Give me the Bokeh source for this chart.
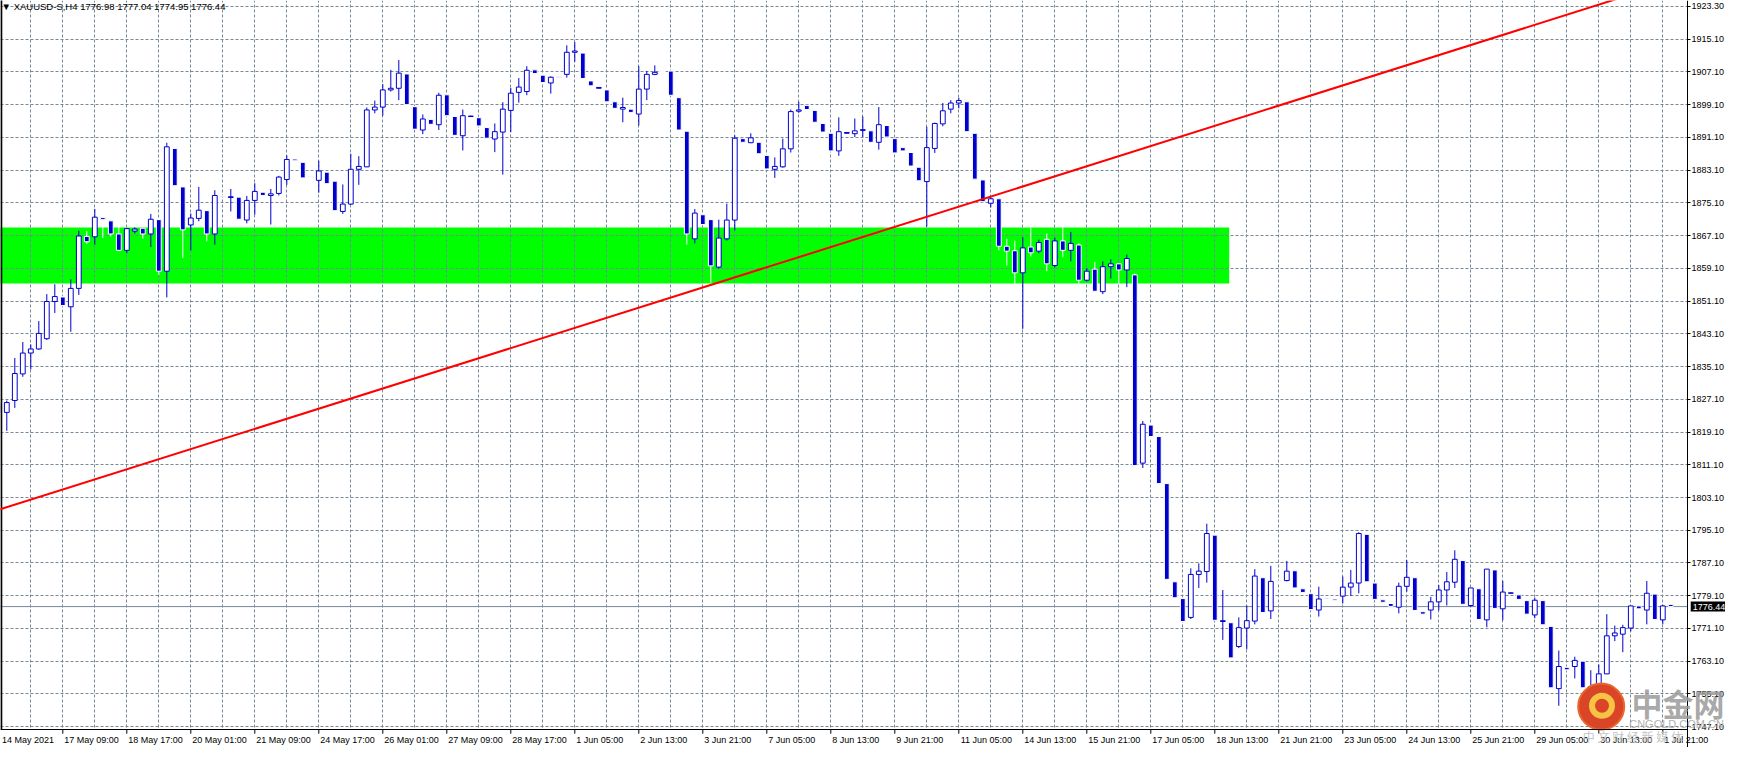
from bokeh.plotting import figure
from bokeh.models import Range1d, FixedTicker, PrintfTickFormatter, Label, ColumnDataSource
from bokeh.embed import file_html
from bokeh.resources import INLINE

# ---------------- data (H4 bars, index 0 = 14 May 2021 01:00) ----------------
opens = [1826.1, 1823.9, 1826.8, 1833.3, 1838.4, 1839.4, 1841.9, 1851.0, 1852.1, 1849.7,
         1854.2, 1866.9, 1866.8, 1871.5, 1870.7, 1867.5, 1863.5, 1868.2, 1868.9, 1867.5,
         1871.0, 1858.4, 1888.4, 1879.0, 1869.7, 1871.3, 1873.2, 1867.5, 1876.8, 1876.4,
         1876.5, 1870.9, 1875.7, 1877.7, 1876.9, 1877.4, 1880.8, 1885.8, 1885.0, 1881.5,
         1880.6, 1882.6, 1880.4, 1873.0, 1874.8, 1883.3, 1883.9, 1897.8, 1898.5, 1902.7,
         1903.1, 1906.6, 1898.6, 1892.9, 1895.5, 1894.2, 1901.5, 1896.2, 1891.5, 1896.2,
         1895.9, 1893.5, 1890.7, 1892.4, 1897.7, 1902.1, 1902.3, 1907.6, 1906.3, 1904.4,
         1905.9, 1906.5, 1911.9, 1911.7, 1904.9, 1903.1, 1902.7, 1899.8, 1898.0, 1898.0,
         1896.8, 1902.9, 1906.5, 1907.2, 1907.3, 1900.8, 1892.6, 1866.3, 1872.2, 1871.0,
         1859.4, 1866.3, 1870.9, 1890.8, 1889.8, 1889.9, 1886.7, 1883.3, 1883.9, 1888.3,
         1897.5, 1898.9, 1897.7, 1894.5, 1892.1, 1887.8, 1892.1, 1892.0, 1892.8, 1892.7,
         1889.9, 1894.0, 1890.8, 1888.6, 1887.4, 1883.8, 1880.3, 1888.4, 1894.4, 1898.0,
         1899.5, 1899.8, 1892.1, 1880.7, 1875.0, 1876.1, 1864.5, 1863.4, 1858.0, 1864.3,
         1863.3, 1866.2, 1859.8, 1865.8, 1863.5, 1864.8, 1856.2, 1858.9, 1853.4, 1859.5,
         1860.2, 1858.7, 1857.5, 1811.5, 1820.8, 1818.0, 1806.5, 1782.5, 1778.4, 1773.8,
         1784.3, 1785.0, 1793.9, 1772.8, 1772.5, 1766.7, 1771.2, 1772.9, 1783.5, 1775.4,
         1782.6, 1782.8, 1785.2, 1780.8, 1779.6, 1775.6, 1778.5, 1778.3, 1779.0, 1781.2,
         1782.2, 1794.1, 1782.2, 1778.1, 1777.2, 1776.3, 1781.4, 1783.5, 1775.2, 1775.6,
         1777.6, 1780.5, 1782.4, 1787.7, 1776.7, 1780.8, 1773.2, 1785.4, 1775.9, 1779.7,
         1779.3, 1777.9, 1774.4, 1777.9, 1771.6, 1756.4, 1761.6, 1761.8, 1763.1, 1753.5,
         1755.2, 1760.0, 1769.3, 1769.7, 1771.2, 1776.6, 1775.6, 1779.5, 1773.2, 1776.98]

highs = [1827.0, 1826.8, 1837.2, 1841.1, 1840.5, 1846.2, 1852.8, 1855.2, 1852.4, 1856.4,
         1868.3, 1868.2, 1873.6, 1871.7, 1870.9, 1869.5, 1868.9, 1869.1, 1869.0, 1872.4,
         1871.2, 1889.8, 1888.6, 1879.2, 1872.5, 1879.0, 1873.4, 1878.2, 1877.0, 1878.5,
         1876.7, 1876.8, 1879.9, 1877.9, 1878.5, 1881.7, 1886.7, 1886.0, 1885.2, 1881.7,
         1885.4, 1882.8, 1880.6, 1879.6, 1887.1, 1886.5, 1898.4, 1900.1, 1904.1, 1907.6,
         1910.0, 1906.8, 1898.8, 1896.7, 1895.7, 1902.0, 1901.7, 1896.4, 1897.9, 1896.4,
         1896.1, 1893.7, 1894.5, 1899.7, 1903.2, 1905.6, 1908.5, 1907.8, 1906.5, 1906.0,
         1906.0, 1913.6, 1914.4, 1911.9, 1905.1, 1903.4, 1902.9, 1900.0, 1900.8, 1898.2,
         1908.5, 1907.3, 1908.7, 1907.4, 1907.5, 1901.0, 1892.8, 1873.6, 1872.4, 1871.2,
         1871.0, 1874.9, 1891.6, 1891.0, 1892.1, 1890.1, 1886.9, 1886.2, 1890.8, 1897.9,
         1899.8, 1899.1, 1897.9, 1894.7, 1892.3, 1896.0, 1892.4, 1895.7, 1896.2, 1892.9,
         1898.5, 1894.2, 1891.0, 1888.8, 1887.6, 1884.0, 1893.7, 1894.7, 1899.5, 1900.2,
         1900.8, 1900.0, 1892.3, 1880.9, 1876.8, 1876.3, 1866.3, 1865.9, 1866.7, 1869.0,
         1866.1, 1867.6, 1866.6, 1869.1, 1868.0, 1865.2, 1859.1, 1860.7, 1860.8, 1861.3,
         1860.4, 1862.5, 1857.8, 1821.8, 1821.0, 1818.4, 1806.7, 1782.7, 1778.6, 1785.8,
         1787.0, 1796.7, 1794.1, 1780.5, 1772.7, 1773.8, 1776.7, 1785.6, 1783.7, 1786.4,
         1782.8, 1787.6, 1785.4, 1781.0, 1779.8, 1781.3, 1778.7, 1778.5, 1783.8, 1785.4,
         1794.6, 1794.3, 1782.4, 1778.3, 1777.4, 1782.3, 1787.8, 1783.7, 1775.4, 1778.8,
         1781.7, 1784.9, 1790.2, 1787.9, 1781.0, 1781.0, 1785.6, 1785.6, 1782.7, 1779.9,
         1779.5, 1778.1, 1778.6, 1778.1, 1771.8, 1765.7, 1761.8, 1764.2, 1763.3, 1760.9,
         1762.3, 1774.6, 1771.8, 1772.0, 1776.6, 1776.8, 1782.7, 1779.7, 1776.9, 1777.04]

lows = [1819.5, 1819.4, 1825.0, 1832.6, 1834.4, 1839.2, 1841.6, 1848.2, 1849.8, 1843.6,
        1852.6, 1865.1, 1864.9, 1866.5, 1866.9, 1863.3, 1862.8, 1867.6, 1866.3, 1864.3,
        1857.5, 1852.0, 1879.0, 1861.6, 1863.5, 1870.6, 1865.7, 1864.9, 1876.5, 1873.0,
        1870.9, 1870.1, 1872.2, 1876.7, 1869.8, 1876.9, 1879.5, 1885.2, 1881.0, 1881.0,
        1877.6, 1879.6, 1873.0, 1872.4, 1874.6, 1879.5, 1883.9, 1897.0, 1896.4, 1902.3,
        1900.2, 1898.9, 1892.9, 1891.9, 1894.1, 1892.9, 1896.2, 1891.4, 1887.9, 1896.1,
        1893.7, 1890.7, 1887.5, 1882.0, 1892.4, 1899.6, 1901.4, 1906.5, 1904.3, 1901.8,
        1905.6, 1905.7, 1909.6, 1905.3, 1903.5, 1903.0, 1899.6, 1898.0, 1894.8, 1897.0,
        1894.0, 1900.2, 1906.3, 1906.9, 1901.2, 1892.7, 1864.9, 1865.2, 1869.6, 1855.6,
        1859.0, 1865.9, 1868.4, 1889.7, 1889.7, 1886.9, 1883.2, 1881.2, 1883.7, 1887.4,
        1897.1, 1897.7, 1894.6, 1892.2, 1887.6, 1886.6, 1892.0, 1891.2, 1891.2, 1889.7,
        1888.1, 1891.0, 1887.1, 1887.6, 1883.9, 1880.3, 1869.3, 1887.3, 1893.8, 1897.0,
        1898.2, 1892.3, 1880.7, 1875.2, 1874.0, 1863.5, 1859.8, 1855.3, 1844.3, 1862.0,
        1862.8, 1858.4, 1859.3, 1861.8, 1860.8, 1855.3, 1855.9, 1853.3, 1852.8, 1856.6,
        1855.2, 1854.5, 1810.7, 1810.3, 1817.0, 1806.3, 1782.9, 1778.4, 1772.6, 1773.4,
        1781.0, 1782.3, 1772.9, 1768.3, 1763.7, 1766.3, 1766.0, 1772.1, 1774.8, 1773.4,
        1782.3, 1782.6, 1780.8, 1779.7, 1775.5, 1774.0, 1778.2, 1777.9, 1777.2, 1779.0,
        1779.7, 1782.3, 1778.0, 1777.3, 1776.3, 1774.8, 1780.1, 1775.3, 1774.4, 1773.3,
        1775.5, 1776.7, 1781.0, 1776.8, 1776.4, 1773.1, 1771.4, 1775.8, 1773.1, 1779.6,
        1778.0, 1774.4, 1773.6, 1771.8, 1756.4, 1752.2, 1760.8, 1758.9, 1756.4, 1750.8,
        1753.5, 1760.0, 1768.0, 1765.3, 1770.4, 1775.7, 1772.1, 1773.1, 1772.1, 1774.95]

closes = [1823.9, 1826.3, 1833.4, 1838.4, 1839.4, 1843.2, 1851.0, 1852.2, 1850.0, 1854.2,
          1867.0, 1865.6, 1871.6, 1871.0, 1867.5, 1863.5, 1868.8, 1868.7, 1867.5, 1871.1,
          1858.4, 1888.8, 1879.3, 1868.5, 1871.4, 1873.3, 1867.5, 1876.9, 1876.6, 1876.6,
          1871.1, 1875.7, 1877.9, 1876.9, 1877.3, 1881.4, 1885.7, 1885.4, 1881.2, 1881.3,
          1882.9, 1879.8, 1873.2, 1874.8, 1883.3, 1884.0, 1897.8, 1898.5, 1902.7, 1903.1,
          1906.8, 1899.1, 1893.1, 1895.6, 1894.3, 1901.4, 1896.4, 1891.6, 1896.4, 1896.3,
          1893.9, 1890.9, 1892.5, 1898.0, 1901.9, 1903.4, 1907.5, 1906.7, 1904.5, 1905.8,
          1905.7, 1911.9, 1912.2, 1905.5, 1903.7, 1903.3, 1899.8, 1898.2, 1898.4, 1897.2,
          1902.9, 1906.5, 1907.0, 1907.1, 1901.4, 1892.9, 1867.5, 1872.6, 1869.8, 1859.7,
          1866.5, 1870.9, 1890.9, 1889.9, 1891.0, 1887.1, 1883.4, 1884.0, 1888.3, 1897.4,
          1897.8, 1897.9, 1894.8, 1892.4, 1887.8, 1892.5, 1892.3, 1892.7, 1893.0, 1889.9,
          1894.2, 1891.2, 1887.3, 1887.8, 1884.1, 1880.5, 1888.6, 1894.5, 1897.6, 1899.5,
          1900.1, 1892.5, 1880.9, 1875.4, 1876.1, 1864.5, 1863.3, 1858.0, 1864.1, 1862.9,
          1865.4, 1860.2, 1865.8, 1863.5, 1865.2, 1856.2, 1858.4, 1853.5, 1859.5, 1860.2,
          1858.7, 1861.5, 1810.9, 1821.0, 1818.0, 1806.5, 1783.1, 1778.6, 1772.8, 1784.3,
          1785.1, 1794.3, 1773.1, 1773.0, 1763.9, 1771.3, 1773.0, 1783.9, 1775.0, 1782.6,
          1782.5, 1785.1, 1781.0, 1779.9, 1775.7, 1778.3, 1778.3, 1778.0, 1781.2, 1782.2,
          1794.3, 1782.5, 1778.2, 1777.5, 1776.5, 1781.4, 1783.6, 1775.5, 1774.6, 1777.6,
          1780.5, 1782.5, 1788.0, 1777.0, 1781.0, 1773.3, 1785.6, 1776.0, 1780.0, 1779.8,
          1778.2, 1774.6, 1778.0, 1772.0, 1756.6, 1761.8, 1761.0, 1763.3, 1756.6, 1756.9,
          1760.0, 1769.3, 1770.0, 1771.3, 1776.6, 1775.9, 1779.7, 1773.3, 1776.6, 1776.44]

time_tick_bars = list(range(0, 209, 8))
time_tick_labels = ["14 May 2021", "17 May 09:00", "18 May 17:00", "20 May 01:00", "21 May 09:00",
                    "24 May 17:00", "26 May 01:00", "27 May 09:00", "28 May 17:00", "1 Jun 05:00",
                    "2 Jun 13:00", "3 Jun 21:00", "7 Jun 05:00", "8 Jun 13:00", "9 Jun 21:00",
                    "11 Jun 05:00", "14 Jun 13:00", "15 Jun 21:00", "17 Jun 05:00", "18 Jun 13:00",
                    "21 Jun 21:00", "23 Jun 05:00", "24 Jun 13:00", "25 Jun 21:00", "29 Jun 05:00",
                    "30 Jun 13:00", "1 Jul 21:00"]
price_ticks = [1747.1, 1755.1, 1763.1, 1771.1, 1779.1, 1787.1, 1795.1, 1803.1, 1811.1, 1819.1,
               1827.1, 1835.1, 1843.1, 1851.1, 1859.1, 1867.1, 1875.1, 1883.1, 1891.1, 1899.1,
               1907.1, 1915.1, 1923.1]
top_label = "1923.30"
grid_bars = list(range(4, 212, 4))

# support zone (green), trend line (red), last price
zone_bars = [-1.0, 153.8]
zone_prices = [1855.4, 1869.1]
trend_bars = [-1.0, 215.0]
trend_prices = [1799.5, 1932.8]
last_price = 1776.44
title_text = "\u25bc XAUUSD-S,H4  1776.98 1777.04 1774.95 1776.44"

# ---------------- layout constants ----------------
W, H = 1725, 747
X0 = 0.2125                       # 8 px per bar, like the terminal
X1 = X0 + W / 8.0
Y0, Y1 = 1742.01, 1924.55         # visible price range (incl. time-scale strip)
AXIS_BAR = 211.09                 # where the price scale sits
AXIS_PRICE = 1746.37              # where the time scale sits
PX_PER_BAR = W / (X1 - X0)
PX_PER_PRICE = H / (Y1 - Y0)
TICK_LEN = 4 / PX_PER_PRICE

BLUE = "#0000CD"
GRID = "#778899"
FONT = "Liberation Sans"

idx = list(range(len(opens)))
bull = [c >= o for o, c in zip(opens, closes)]
src = ColumnDataSource(dict(
    x=idx, high=highs, low=lows,
    top=[max(o, c) for o, c in zip(opens, closes)],
    bottom=[min(o, c) for o, c in zip(opens, closes)],
    wick=[BLUE if b else "white" for b in bull],
    fill=["white" if b else BLUE for b in bull],
    edge=[BLUE if b else "white" for b in bull],
))

p = figure(width=W, height=H, x_range=Range1d(X0, X1), y_range=Range1d(Y0, Y1),
           output_backend="svg", toolbar_location=None, y_axis_location="right",
           min_border_left=0, min_border_right=0, min_border_top=0, min_border_bottom=0)
p.background_fill_color = "white"
p.border_fill_color = "white"
p.outline_line_color = None

# grid
p.xgrid.ticker = FixedTicker(ticks=grid_bars)
p.ygrid.ticker = FixedTicker(ticks=price_ticks)
for g in (p.xgrid, p.ygrid):
    g.grid_line_color = GRID
    g.grid_line_dash = "3 2"
    g.grid_line_width = 1

# ---- time scale: labels start just right of each tick (terminal style) ----
CHAR_W = {" ": 0.278, ":": 0.278, "M": 0.833, "y": 0.5, "J": 0.5, "l": 0.222}


def text_width(s, size=9.0):
    return sum(CHAR_W.get(ch, 0.556) for ch in s) * size


label_pos = []
for b, t in zip(time_tick_bars, time_tick_labels):
    left_px = max((b - X0) * PX_PER_BAR + 1.5, 1.5)
    label_pos.append(round(X0 + (left_px + text_width(t) / 2) / PX_PER_BAR, 4))

xa = p.xaxis[0]
xa.fixed_location = AXIS_PRICE
xa.bounds = (X0, AXIS_BAR)
xa.ticker = FixedTicker(ticks=label_pos)
xa.major_label_overrides = {pos: t for pos, t in zip(label_pos, time_tick_labels)}
xa.major_tick_out = 4
xa.major_tick_in = 0
xa.minor_tick_out = 0
xa.major_tick_line_color = None
xa.axis_line_color = "black"
xa.major_label_standoff = 1
xa.major_label_text_font = FONT
xa.major_label_text_font_size = "9px"
xa.major_label_text_color = "black"

# ---- price scale ----
ya = p.yaxis[0]
ya.fixed_location = AXIS_BAR
ya.bounds = (Y0, Y1)
ya.ticker = FixedTicker(ticks=price_ticks)
ya.formatter = PrintfTickFormatter(format="%.2f")
ya.major_label_overrides = {price_ticks[-1]: top_label}
ya.major_label_text_font = FONT
ya.major_label_text_font_size = "9px"
ya.major_label_text_color = "black"
ya.major_tick_out = 3
ya.major_tick_in = 0
ya.minor_tick_out = 0
ya.major_label_standoff = 1
ya.axis_line_color = "black"
ya.major_tick_line_color = "black"

# green zone under the grid
p.quad(left=[zone_bars[0]], right=[zone_bars[1]], bottom=[zone_prices[0]], top=[zone_prices[1]],
       fill_color="#00FF00", line_color=None, level="image")

# white strips under the scales (hide grid there)
p.quad(left=[AXIS_BAR], right=[X1 + 1], bottom=[Y0 - 1], top=[Y1 + 1], fill_color="white", line_color=None)
p.quad(left=[X0 - 2], right=[X1 + 1], bottom=[Y0 - 1], top=[AXIS_PRICE], fill_color="white", line_color=None)

# time-scale tick marks
p.segment(x0=time_tick_bars, y0=[AXIS_PRICE] * len(time_tick_bars),
          x1=time_tick_bars, y1=[AXIS_PRICE - TICK_LEN] * len(time_tick_bars),
          line_color="black", line_width=1)

# last price line (behind candles)
p.line([X0 - 1, AXIS_BAR], [last_price, last_price], line_color=GRID, line_width=1)

# candles
p.segment(x0="x", y0="high", x1="x", y1="low", source=src, line_color="wick", line_width=1)
p.vbar(x="x", width=0.6, top="top", bottom="bottom", source=src,
       fill_color="fill", line_color="edge", line_width=1)

# left chart border
p.segment(x0=[X0 + 0.1], y0=[AXIS_PRICE], x1=[X0 + 0.1], y1=[Y1 + 1], line_color="black", line_width=2)

# trend line
p.line(trend_bars, trend_prices, line_color="#FF0000", line_width=2)

# watermark logo
p.scatter([200.3], [1752.0], size=46, marker="circle", fill_color="#DA4527", line_color="#E8672F", line_width=2)
p.scatter([200.4], [1752.2], size=20, marker="circle", fill_color=None, line_color="#F6C444", line_width=6)

p.add_layout(Label(x=204.1, y=1753.0, text="中金网", text_font="Noto Sans CJK SC", text_font_size="31px",
                   text_font_style="bold", text_color="#9a9a9a", text_alpha=0.85, text_baseline="middle"))
p.add_layout(Label(x=203.8, y=1747.75, text="CNGOLD.COM.CN", text_font=FONT, text_font_size="11px",
                   text_color="#b0b0b0", text_baseline="middle"))
p.add_layout(Label(x=198.0, y=1744.6, text="中  文  财  经  新  媒  体", text_font="Noto Sans CJK SC",
                   text_font_size="12px", text_color="#bdbdbd", text_alpha=0.9, text_baseline="middle"))

# title and last-price tag
p.add_layout(Label(x=0.35, y=1923.0, text=title_text, text_font=FONT, text_font_size="9.5px",
                   text_color="black", text_baseline="middle"))
p.add_layout(Label(x=AXIS_BAR + 0.4, y=last_price, text="1776.44", text_font=FONT, text_font_size="9px",
                   text_color="white", background_fill_color="black", text_baseline="middle", padding=2))

open("out.html", "w").write(file_html(p, INLINE))
